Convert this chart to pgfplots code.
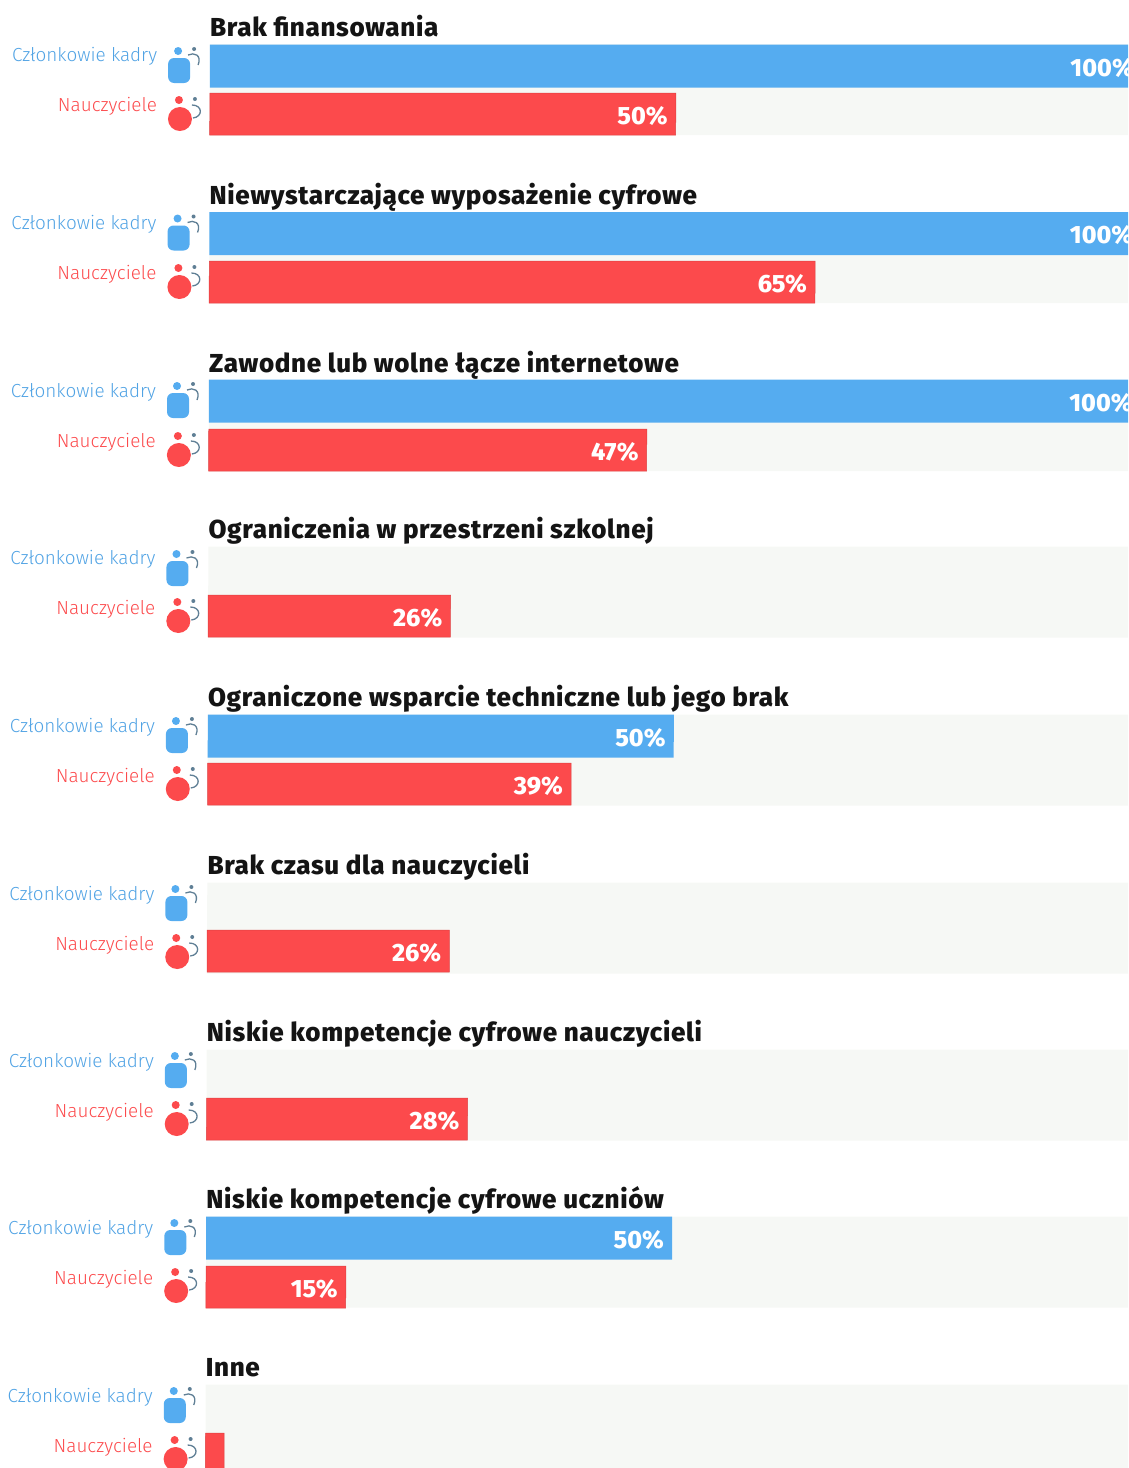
\documentclass[border=0pt]{standalone}
\usepackage{fontspec}
\setmainfont{Fira Sans}
\newfontfamily\titlefont[LetterSpace=2.6]{Fira Sans ExtraBold}
\newfontfamily\valuefont{Fira Sans ExtraBold}
\newfontfamily\lightfont{Fira Sans Light}
\usepackage{pgfplots}
\usepackage{pgfplotstable}
\pgfplotsset{compat=1.18}
\definecolor{cblue}{HTML}{55ACF0}
\definecolor{cred}{HTML}{FC4A4C}
\definecolor{ctrack}{HTML}{F6F8F5}
\definecolor{cgrey}{HTML}{5F7F95}
\pgfplotstableread{
y val
66 100
233.5 100
401 100
736 50
1238 50
}\staff
\pgfplotstableread{
y val
114 50
282 65
450 47
616 26
784 39
951 26
1119 28
1287 15
}\teachers
\pgfplotstableread{
y x
66 -3.2
233.5 -3.2
401 -3.2
569 -3.2
736 -3.2
904 -3.2
1071 -3.2
1238 -3.2
1406 -3.2
}\iconsstaff
\pgfplotstableread{
y x
113 -3.2
281 -3.2
449 -3.2
615 -3.2
783 -3.2
951 -3.2
1118 -3.2
1285 -3.2
1453 -3.2
}\iconsteach
\pgfdeclareplotmark{staffic}{%
  \pgfsetfillcolor{cblue}\pgfsetstrokecolor{cblue}
  \pgfpathcircle{\pgfpoint{-2pt}{15pt}}{4pt}\pgfusepath{fill}
  \begin{pgfscope}
  \pgfsetcornersarced{\pgfpoint{6pt}{6pt}}
  \pgfpathrectangle{\pgfpoint{-12pt}{-17pt}}{\pgfpoint{22pt}{25pt}}\pgfusepath{fill}
  \end{pgfscope}
  \pgfsetfillcolor{cgrey}\pgfsetstrokecolor{cgrey}
  \pgfpathcircle{\pgfpoint{14pt}{17pt}}{2pt}\pgfusepath{fill}
  \pgfsetlinewidth{1.3pt}
  \pgfpathmoveto{\pgfpoint{8pt}{11pt}}
  \pgfpathcurveto{\pgfpoint{14pt}{14pt}}{\pgfpoint{22pt}{11pt}}{\pgfpoint{18pt}{1pt}}
  \pgfusepath{stroke}
}
\pgfdeclareplotmark{teachic}{%
  \pgfsetfillcolor{cred}\pgfsetstrokecolor{cred}
  \pgfpathcircle{\pgfpoint{-1pt}{13pt}}{4pt}\pgfusepath{fill}
  \pgfpathcircle{\pgfpoint{0pt}{-6pt}}{12pt}\pgfusepath{fill}
  \pgfsetfillcolor{cgrey}\pgfsetstrokecolor{cgrey}
  \pgfpathcircle{\pgfpoint{15pt}{14pt}}{2pt}\pgfusepath{fill}
  \pgfsetlinewidth{1.3pt}
  \pgfpathmoveto{\pgfpoint{12pt}{8pt}}
  \pgfpathcurveto{\pgfpoint{23pt}{8pt}}{\pgfpoint{23pt}{-4pt}}{\pgfpoint{13pt}{-5pt}}
  \pgfusepath{stroke}
}
% one horizontal bar from 0 to #4 per cent, between the heights #2 and #3
\newcommand{\onebar}[4]{%
  \addplot[#1,forget plot] coordinates {(0,#2) (#4,#2) (#4,#3) (0,#3)} --cycle;}
\newcommand{\rowtext}[2]{%
  \node[anchor=base west,inner sep=0pt,font=\titlefont\fontsize{26}{26}\selectfont,text=black!92] at (axis cs:0,#1-53.5) {#2};
  \node[anchor=base east,inner sep=0pt,font=\lightfont\fontsize{18.9}{18}\selectfont,text=cblue!95!black] at (axis cs:-5.65,#1-28) {Członkowie kadry};
  \node[anchor=base east,inner sep=0pt,font=\lightfont\fontsize{18.9}{18}\selectfont,text=cred] at (axis cs:-5.65,#1+22) {Nauczyciele};
}
\begin{document}
\begin{tikzpicture}[x=1pt,y=1pt]
\useasboundingbox (0,0) rectangle (1128pt,1468pt);
\clip (0,0) rectangle (1128pt,1468pt);
\begin{axis}[
  at={(210.14pt,1468pt)},anchor=origin,
  x={(9.32pt,0pt)},y={(-0.00324pt,-1pt)},
  xmin=-23,xmax=105,ymin=0,ymax=1480,
  enlargelimits=false,hide axis,
  /pgf/number format/assume math mode=true,
]
% tracks
\onebar{fill=ctrack,draw=none}{44}{135}{100}
\onebar{fill=ctrack,draw=none}{212}{303}{100}
\onebar{fill=ctrack,draw=none}{380}{471}{100}
\onebar{fill=ctrack,draw=none}{546.5}{637.5}{100}
\onebar{fill=ctrack,draw=none}{714.5}{805.5}{100}
\onebar{fill=ctrack,draw=none}{882.5}{973.5}{100}
\onebar{fill=ctrack,draw=none}{1049.5}{1140.5}{100}
\onebar{fill=ctrack,draw=none}{1216.5}{1307.5}{100}
\onebar{fill=ctrack,draw=none}{1384.5}{1475.5}{100}
% staff
\onebar{fill=cblue,draw=none}{44.5}{87.5}{100}
\onebar{fill=cblue,draw=none}{212}{255}{100}
\onebar{fill=cblue,draw=none}{379.5}{422.5}{100}
\onebar{fill=cblue,draw=none}{714.5}{757.5}{50}
\onebar{fill=cblue,draw=none}{1216.5}{1259.5}{50}
% teachers
\onebar{fill=cred,draw=cred!88!black,line width=0.5pt}{93}{135}{50}
\onebar{fill=cred,draw=cred!88!black,line width=0.5pt}{261}{303}{65}
\onebar{fill=cred,draw=cred!88!black,line width=0.5pt}{429}{471}{47}
\onebar{fill=cred,draw=cred!88!black,line width=0.5pt}{595}{637}{26}
\onebar{fill=cred,draw=cred!88!black,line width=0.5pt}{763}{805}{39}
\onebar{fill=cred,draw=cred!88!black,line width=0.5pt}{930}{972}{26}
\onebar{fill=cred,draw=cred!88!black,line width=0.5pt}{1098}{1140}{28}
\onebar{fill=cred,draw=cred!88!black,line width=0.5pt}{1266}{1308}{15}
\onebar{fill=cred,draw=cred!88!black,line width=0.5pt}{1433}{1475}{2}
% value labels
\pgfplotsset{valuelabels/.style={only marks,mark=none,forget plot,point meta=x,
  nodes near coords={\pgfmathprintnumber[precision=0]{\pgfplotspointmeta}\%},
  nodes near coords style={anchor=east,xshift=-8pt,yshift=-1.5pt,text=white,font=\valuefont\fontsize{25}{25}\selectfont,inner sep=0pt}}}
\addplot[valuelabels] table[x=val,y=y]{\staff};
\addplot[valuelabels] table[x=val,y=y]{\teachers};
\addplot[only marks,mark=staffic,forget plot] table[x=x,y=y]{\iconsstaff};
\addplot[only marks,mark=teachic,forget plot] table[x=x,y=y]{\iconsteach};
\rowtext{89.5}{Brak finansowania}
\rowtext{257.5}{Niewystarczające wyposażenie cyfrowe}
\rowtext{425.5}{Zawodne lub wolne łącze internetowe}
\rowtext{592}{Ograniczenia w przestrzeni szkolnej}
\rowtext{760}{Ograniczone wsparcie techniczne lub jego brak}
\rowtext{928}{Brak czasu dla nauczycieli}
\rowtext{1095}{Niskie kompetencje cyfrowe nauczycieli}
\rowtext{1262}{Niskie kompetencje cyfrowe uczniów}
\rowtext{1430}{Inne}
\end{axis}
\end{tikzpicture}
\end{document}
